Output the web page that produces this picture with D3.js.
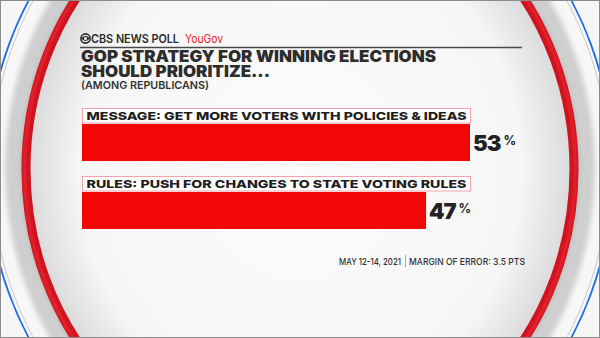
<!DOCTYPE html>
<meta charset="utf-8">
<html>
<head>
<style>
  body { margin: 0; background: #fff; }
  svg { display: block; }
  text { font-family: Inter, Lato, "Open Sans", "DejaVu Sans", sans-serif; }
</style>
</head>
<body>
<script src="https://cdn.jsdelivr.net/npm/d3@7"></script>
<script>
  // chart data
  var categories = ["MESSAGE: GET MORE VOTERS WITH POLICIES & IDEAS",
                    "RULES: PUSH FOR CHANGES TO STATE VOTING RULES"];
  var values = [53, 47];
  var titleLines = ["GOP STRATEGY FOR WINNING ELECTIONS", "SHOULD PRIORITIZE..."];
  var subtitle = "(AMONG REPUBLICANS)";
  var footerDate = "MAY 12-14, 2021";
  var footerMoe = "MARGIN OF ERROR: 3.5 PTS";

  var W = 600, H = 338, cx = 300, cy = 169;

  svg = d3.select("body").append("svg")
    .attr("width", W)
    .attr("height", H);

  var defs = svg.append("defs");
  var blur = defs.append("filter").attr("id", "blur")
    .attr("x", "-10%").attr("y", "-10%").attr("width", "120%").attr("height", "120%");
  blur.append("feGaussianBlur").attr("stdDeviation", 2.5);
  var blurSmall = defs.append("filter").attr("id", "blur-s")
    .attr("x", "-10%").attr("y", "-10%").attr("width", "120%").attr("height", "120%");
  blurSmall.append("feGaussianBlur").attr("stdDeviation", 1);

  var grad = defs.append("radialGradient").attr("id", "inner")
    .attr("cx", "50%").attr("cy", "50%").attr("r", "50%");
  grad.append("stop").attr("offset", "0%").attr("stop-color", "#fcfcfc");
  grad.append("stop").attr("offset", "82%").attr("stop-color", "#f6f6f6");
  grad.append("stop").attr("offset", "100%").attr("stop-color", "#dcdcdc");

  // backdrop rings
  var bg = svg.append("g");
  bg.append("rect").attr("width", W).attr("height", H).attr("fill", "#f6f6f6");
  bg.append("ellipse").attr("cx", cx).attr("cy", cy).attr("rx", 313).attr("ry", 338)
    .attr("fill", "#f7f7f7").attr("stroke", "#1d6fe6").attr("stroke-width", 1.8);
  bg.append("ellipse").attr("cx", cx).attr("cy", cy).attr("rx", 309).attr("ry", 334)
    .attr("fill", "none").attr("stroke", "#c9c9c9").attr("stroke-width", 1);
  bg.append("ellipse").attr("cx", cx).attr("cy", cy).attr("rx", 288).attr("ry", 311)
    .attr("fill", "none").attr("stroke", "#cfcfcf").attr("stroke-width", 14)
    .attr("filter", "url(#blur)");
  bg.append("ellipse").attr("cx", cx).attr("cy", cy).attr("rx", 275).attr("ry", 297)
    .attr("fill", "none").attr("stroke", "#6a6a6a").attr("stroke-width", 12)
    .attr("opacity", 0.4).attr("filter", "url(#blur)");
  bg.append("ellipse").attr("cx", cx).attr("cy", cy).attr("rx", 269).attr("ry", 291)
    .attr("fill", "url(#inner)");
  bg.append("ellipse").attr("cx", cx).attr("cy", cy).attr("rx", 274).attr("ry", 296)
    .attr("fill", "none").attr("stroke", "#cf1420").attr("stroke-width", 9);
  bg.append("ellipse").attr("cx", cx).attr("cy", cy).attr("rx", 275.5).attr("ry", 297.5)
    .attr("fill", "none").attr("stroke", "#e8252f").attr("stroke-width", 2.5)
    .attr("filter", "url(#blur-s)");

  // header
  var head = svg.append("g");
  head.append("circle").attr("cx", 85.5).attr("cy", 38.5).attr("r", 4.6)
    .attr("fill", "none").attr("stroke", "#2b2b2b").attr("stroke-width", 1.6);
  head.append("path").attr("d", "M81.2,38.5 Q85.5,33.6 89.8,38.5 Q85.5,43.4 81.2,38.5 Z")
    .attr("fill", "#2b2b2b");
  head.append("circle").attr("cx", 85.5).attr("cy", 38.5).attr("r", 1.5).attr("fill", "#fff");
  head.append("text").attr("x", 91).attr("y", 43)
    .attr("textLength", 88).attr("lengthAdjust", "spacingAndGlyphs")
    .attr("font-size", 12).attr("font-weight", 600).attr("fill", "#2b2b2b")
    .text("CBS NEWS POLL");
  head.append("text").attr("x", 185).attr("y", 43)
    .attr("textLength", 38).attr("lengthAdjust", "spacingAndGlyphs")
    .attr("font-size", 12).attr("font-weight", 400).attr("fill", "#e8231f")
    .text("YouGov");
  head.append("line").attr("x1", 80).attr("x2", 522).attr("y1", 47.5).attr("y2", 47.5)
    .attr("stroke", "#4a4a4a").attr("stroke-width", 1.3);

  var titleLen = [355, 189];
  head.selectAll("text.title").data(titleLines).enter().append("text")
    .attr("class", "title")
    .attr("x", 81).attr("y", function(d, i) { return 62 + i * 15; })
    .attr("textLength", function(d, i) { return titleLen[i]; })
    .attr("lengthAdjust", "spacingAndGlyphs")
    .attr("font-size", 16).attr("font-weight", 900).attr("fill", "#2d2d2d")
    .text(function(d) { return d; });
  head.append("text").attr("x", 81).attr("y", 88.5)
    .attr("textLength", 128).attr("lengthAdjust", "spacingAndGlyphs")
    .attr("font-size", 10.5).attr("font-weight", 600).attr("fill", "#333")
    .text(subtitle);

  // bars
  var x = d3.scaleLinear().domain([0, 53]).range([82, 470]);
  var y = d3.scaleBand().domain(categories).range([108, 244]);
  var rows = categories.map(function(c, i) { return {label: c, value: values[i]}; });

  var g = svg.selectAll("g.row").data(rows).enter().append("g").attr("class", "row");

  g.append("rect")
    .attr("x", x(0) + 0.5)
    .attr("y", function(d) { return y(d.label) + 0.5; })
    .attr("width", x(53) - x(0))
    .attr("height", 14.5)
    .attr("fill", "#fff")
    .attr("stroke", "#f2a3ab")
    .attr("stroke-width", 1);
  g.append("text")
    .attr("x", x(0) + 4.5)
    .attr("y", function(d) { return y(d.label) + 12; })
    .attr("textLength", x(53) - x(0) - 8)
    .attr("lengthAdjust", "spacingAndGlyphs")
    .attr("font-size", 11).attr("font-weight", 800).attr("fill", "#1e1e1e")
    .text(function(d) { return d.label; });

  g.append("rect")
    .attr("x", x(0))
    .attr("y", function(d) { return y(d.label) + 16; })
    .attr("width", function(d) { return x(d.value) - x(0); })
    .attr("height", 37)
    .attr("fill", "#f20707");

  var val = g.append("text")
    .attr("x", function(d) { return x(d.value) + 3; })
    .attr("y", function(d) { return y(d.label) + 43; })
    .attr("fill", "#232323");
  val.append("tspan")
    .attr("font-size", 22).attr("font-weight", 900)
    .attr("letter-spacing", -1)
    .text(function(d) { return d.value; });
  val.append("tspan")
    .attr("dx", 3).attr("dy", -6)
    .attr("font-size", 12.5).attr("font-weight", 700)
    .text("%");

  // footer
  var foot = svg.append("g").attr("fill", "#333");
  foot.append("text").attr("x", 339).attr("y", 264.5)
    .attr("textLength", 62).attr("lengthAdjust", "spacingAndGlyphs")
    .attr("font-size", 9.5).attr("font-weight", 500)
    .text(footerDate);
  foot.append("line").attr("x1", 405.5).attr("x2", 405.5).attr("y1", 255).attr("y2", 267)
    .attr("stroke", "#aaa").attr("stroke-width", 1);
  foot.append("text").attr("x", 409).attr("y", 264.5)
    .attr("textLength", 116).attr("lengthAdjust", "spacingAndGlyphs")
    .attr("font-size", 9.5).attr("font-weight", 500)
    .text(footerMoe);

  // frame
  svg.append("rect").attr("x", 0.5).attr("y", 0.5).attr("width", W - 1).attr("height", H - 1)
    .attr("fill", "none").attr("stroke", "#8c8c8c").attr("stroke-width", 1);
</script>
</body>
</html>
